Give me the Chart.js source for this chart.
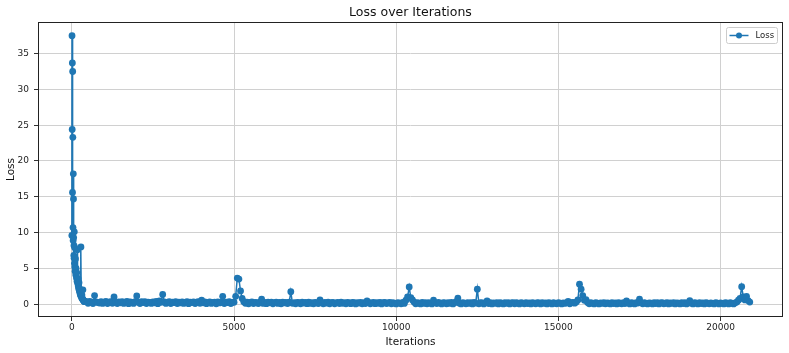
<!DOCTYPE html>
<html><head><meta charset="utf-8">
<script src="https://cdn.jsdelivr.net/npm/chart.js@4/dist/chart.umd.min.js"></script>
<style>html,body{margin:0;padding:0;background:#fff}#wrap{width:789px;height:353px}</style>
</head><body><div id="wrap"><canvas id="c" width="789" height="353"></canvas></div>
<script>
const iterations = [
0,5,10,15,20,25,30,35,40,45,50,55,60,65,70,75,80,85,90,95,
100,110,120,130,140,150,160,170,180,190,200,210,220,230,240,250,260,270,280,290,
300,310,320,330,340,350,360,370,380,390,
400,450,500,550,600,650,700,750,800,850,900,950,
1000,1050,1100,1150,1200,1250,1300,1350,1400,1450,1500,1550,1600,1650,1700,1750,1800,1850,1900,1950,
2000,2050,2100,2150,2200,2250,2300,2350,2400,2450,2500,2550,2600,2650,2700,2750,2800,2850,2900,2950,
3000,3050,3100,3150,3200,3250,3300,3350,3400,3450,3500,3550,3600,3650,3700,3750,3800,3850,3900,3950,
4000,4050,4100,4150,4200,4250,4300,4350,4400,4450,4500,4550,4600,4650,4700,4750,4800,4850,4900,4950,
5000,5050,5100,5150,5200,5250,5300,5350,5400,5450,5500,5550,5600,5650,5700,5750,5800,5850,5900,5950,
6000,6050,6100,6150,6200,6250,6300,6350,6400,6450,6500,6550,6600,6650,6700,6750,6800,6850,6900,6950,
7000,7050,7100,7150,7200,7250,7300,7350,7400,7450,7500,7550,7600,7650,7700,7750,7800,7850,7900,7950,
8000,8050,8100,8150,8200,8250,8300,8350,8400,8450,8500,8550,8600,8650,8700,8750,8800,8850,8900,8950,
9000,9050,9100,9150,9200,9250,9300,9350,9400,9450,9500,9550,9600,9650,9700,9750,9800,9850,9900,9950,
10000,10050,10100,10150,10200,10250,10300,10350,10400,10450,10500,10550,10600,10650,10700,10750,10800,10850,10900,10950,
11000,11050,11100,11150,11200,11250,11300,11350,11400,11450,11500,11550,11600,11650,11700,11750,11800,11850,11900,11950,
12000,12050,12100,12150,12200,12250,12300,12350,12400,12450,12500,12550,12600,12650,12700,12750,12800,12850,12900,12950,
13000,13050,13100,13150,13200,13250,13300,13350,13400,13450,13500,13550,13600,13650,13700,13750,13800,13850,13900,13950,
14000,14050,14100,14150,14200,14250,14300,14350,14400,14450,14500,14550,14600,14650,14700,14750,14800,14850,14900,14950,
15000,15050,15100,15150,15200,15250,15300,15350,15400,15450,15500,15550,15600,15650,15700,15750,15800,15850,15900,15950,
16000,16050,16100,16150,16200,16250,16300,16350,16400,16450,16500,16550,16600,16650,16700,16750,16800,16850,16900,16950,
17000,17050,17100,17150,17200,17250,17300,17350,17400,17450,17500,17550,17600,17650,17700,17750,17800,17850,17900,17950,
18000,18050,18100,18150,18200,18250,18300,18350,18400,18450,18500,18550,18600,18650,18700,18750,18800,18850,18900,18950,
19000,19050,19100,19150,19200,19250,19300,19350,19400,19450,19500,19550,19600,19650,19700,19750,19800,19850,19900,19950,
20000,20050,20100,20150,20200,20250,20300,20350,20400,20450,20500,20550,20600,20650,20700,20750,20800,20850,20900
];
const loss = [
9.6,37.5,24.4,33.7,15.6,32.5,23.3,10.7,8.9,18.2,14.7,9.3,6.8,8.2,6.4,10.1,5.7,7.9,5.2,6.5,
4.6,6.3,4.1,5.0,3.7,4.4,3.2,7.6,2.9,3.6,2.5,2.2,3.0,1.9,1.7,2.1,1.4,1.2,8.0,1.1,
0.9,1.3,0.8,0.7,2.0,0.6,0.5,0.45,0.4,0.35,
0.42,0.35,0.12,0.38,0.28,0.08,1.20,0.33,0.22,0.15,0.36,0.10,
0.30,0.38,0.09,0.27,0.34,0.12,1.00,0.25,0.08,0.33,0.20,0.36,0.11,0.29,0.40,0.07,0.31,0.24,0.10,0.35,
1.15,0.28,0.09,0.34,0.22,0.37,0.08,0.30,0.26,0.11,0.33,0.19,0.38,0.07,0.45,0.27,1.35,0.32,0.10,0.25,
0.34,0.09,0.28,0.21,0.36,0.08,0.30,0.18,0.33,0.10,0.26,0.35,0.07,0.29,0.22,0.31,0.09,0.27,0.34,0.12,
0.55,0.20,0.31,0.07,0.26,0.33,0.10,0.24,0.29,0.06,0.32,0.18,0.27,1.10,0.09,0.30,0.21,0.35,0.08,0.25,
0.28,1.10,3.65,3.50,1.85,0.80,0.35,0.12,0.29,0.06,0.24,0.31,0.09,0.26,0.20,0.08,0.30,0.70,0.11,0.25,
0.07,0.27,0.19,0.30,0.06,0.23,0.28,0.10,0.25,0.05,0.29,0.17,0.24,0.08,0.27,1.75,0.12,0.22,0.06,0.26,
0.20,0.05,0.27,0.15,0.24,0.07,0.28,0.11,0.22,0.05,0.26,0.18,0.09,0.60,0.23,0.06,0.25,0.14,0.27,0.05,
0.22,0.26,0.06,0.19,0.24,0.08,0.27,0.12,0.21,0.05,0.25,0.17,0.07,0.26,0.20,0.04,0.23,0.15,0.26,0.06,
0.21,0.09,0.45,0.24,0.05,0.18,0.25,0.07,0.22,0.13,0.26,0.04,0.20,0.24,0.08,0.17,0.25,0.05,0.21,0.12,
0.04,0.23,0.16,0.06,0.25,0.11,0.55,1.00,2.40,0.90,0.60,0.30,0.05,0.22,0.14,0.04,0.24,0.10,0.20,0.05,
0.23,0.13,0.04,0.55,0.21,0.08,0.24,0.15,0.04,0.22,0.18,0.05,0.23,0.10,0.25,0.04,0.20,0.35,0.85,0.12,
0.04,0.22,0.16,0.05,0.23,0.11,0.20,0.03,0.24,0.14,2.10,0.05,0.21,0.17,0.04,0.23,0.45,0.09,0.21,0.04,
0.19,0.12,0.23,0.04,0.20,0.15,0.03,0.22,0.10,0.21,0.04,0.18,0.23,0.06,0.20,0.13,0.03,0.22,0.16,0.05,
0.21,0.09,0.19,0.03,0.22,0.14,0.05,0.20,0.17,0.03,0.21,0.11,0.19,0.04,0.22,0.15,0.03,0.20,0.12,0.05,
0.21,0.16,0.04,0.19,0.10,0.22,0.40,0.05,0.20,0.25,0.14,0.30,0.60,2.80,2.10,1.20,0.55,0.65,0.22,0.06,
0.20,0.12,0.04,0.21,0.15,0.03,0.19,0.10,0.22,0.05,0.18,0.14,0.03,0.21,0.09,0.19,0.04,0.20,0.13,0.05,
0.21,0.08,0.45,0.18,0.04,0.20,0.13,0.03,0.22,0.16,0.70,0.19,0.05,0.21,0.11,0.03,0.19,0.15,0.04,0.20,
0.09,0.21,0.03,0.17,0.20,0.05,0.13,0.22,0.03,0.18,0.10,0.21,0.04,0.19,0.14,0.03,0.20,0.08,0.22,0.04,
0.18,0.50,0.12,0.03,0.20,0.15,0.04,0.21,0.09,0.18,0.03,0.20,0.13,0.05,0.19,0.11,0.03,0.21,0.16,0.04,
0.19,0.10,0.03,0.20,0.14,0.04,0.21,0.12,0.03,0.19,0.30,0.55,0.80,2.45,1.00,0.60,1.10,0.50,0.30
];
const xTicks = [0, 5000, 10000, 15000, 20000];
const yTicks = [0, 5, 10, 15, 20, 25, 30, 35];
const seriesLabel = 'Loss';
const chartTitle = 'Loss over Iterations';
const xTitle = 'Iterations';
const yTitle = 'Loss';

const BLUE = '#1f77b4';
const FONT = "'DejaVu Sans', sans-serif";

const framePlugin = {
  id: 'frame',
  afterDatasetsDraw(chart) {
    const {ctx, chartArea: a} = chart;
    ctx.save();
    ctx.strokeStyle = '#222';
    ctx.lineWidth = 1;
    ctx.strokeRect(Math.round(a.left) + 0.5, Math.round(a.top) + 0.5,
                   Math.round(a.right - a.left) - 1, Math.round(a.bottom - a.top) - 1);
    // title centred over the plot area
    ctx.fillStyle = '#111';
    ctx.font = '12.5px ' + FONT;
    ctx.textAlign = 'center';
    ctx.textBaseline = 'middle';
    ctx.fillText(chartTitle, (a.left + a.right) / 2, 12.5);
    // legend box
    const bx = a.right - 56.5, by = a.top + 5, bw = 51, bh = 16;
    ctx.beginPath();
    if (ctx.roundRect) ctx.roundRect(bx, by + 0.5, bw, bh, 2); else ctx.rect(bx, by + 0.5, bw, bh);
    ctx.fillStyle = 'rgba(255,255,255,0.85)';
    ctx.fill();
    ctx.strokeStyle = '#cccccc';
    ctx.stroke();
    const cy = by + bh / 2 + 0.5;
    ctx.strokeStyle = BLUE;
    ctx.lineWidth = 1.5;
    ctx.beginPath();
    ctx.moveTo(bx + 3, cy);
    ctx.lineTo(bx + 22, cy);
    ctx.stroke();
    ctx.fillStyle = BLUE;
    ctx.beginPath();
    ctx.arc(bx + 12.5, cy, 3, 0, Math.PI * 2);
    ctx.fill();
    ctx.fillStyle = '#222';
    ctx.font = '8.5px ' + FONT;
    ctx.textBaseline = 'middle';
    ctx.textAlign = 'left';
    ctx.fillText(seriesLabel, bx + 29, cy);
    ctx.restore();
  }
};

new Chart(document.getElementById('c'), {
  type: 'line',
  data: {
    datasets: [{
      label: seriesLabel,
      data: iterations.map((x, i) => ({x: x, y: loss[i]})),
      borderColor: BLUE,
      backgroundColor: BLUE,
      pointBackgroundColor: BLUE,
      pointBorderWidth: 0,
      pointRadius: 3.4,
      borderWidth: 1.5,
      tension: 0,
      fill: false
    }]
  },
  options: {
    responsive: false,
    animation: false,
    devicePixelRatio: 1,
    layout: {padding: {left: 0, right: 6, top: 22, bottom: 0}},
    plugins: {
      legend: {display: false},
      tooltip: {enabled: false},
      title: {display: false}
    },
    scales: {
      x: {
        type: 'linear',
        min: -1044,
        max: 21924,
        afterBuildTicks: (s) => { s.ticks = xTicks.map(v => ({value: v})); },
        afterFit: (s) => { s.height = 36; },
        border: {display: false},
        grid: {color: '#d0d0d0', lineWidth: 1, tickLength: 4, tickColor: '#333'},
        ticks: {
          autoSkip: false, maxRotation: 0, padding: 1,
          color: '#222', font: {family: FONT, size: 9},
          callback: (v) => String(v)
        },
        title: {display: true, text: xTitle, color: '#111',
                font: {family: FONT, size: 10.5}, padding: {top: 2, bottom: 4}}
      },
      y: {
        type: 'linear',
        min: -1.79,
        max: 39.41,
        afterBuildTicks: (s) => { s.ticks = yTicks.map(v => ({value: v})); },
        afterFit: (s) => { s.width = 38; },
        border: {display: false},
        grid: {color: '#d0d0d0', lineWidth: 1, tickLength: 4, tickColor: '#333'},
        ticks: {
          autoSkip: false, padding: 5,
          color: '#222', font: {family: FONT, size: 9},
          callback: (v) => String(v)
        },
        title: {display: true, text: yTitle, color: '#111',
                font: {family: FONT, size: 10.5}, padding: {top: 5, bottom: 2}}
      }
    }
  },
  plugins: [framePlugin]
});
</script>
</body></html>
